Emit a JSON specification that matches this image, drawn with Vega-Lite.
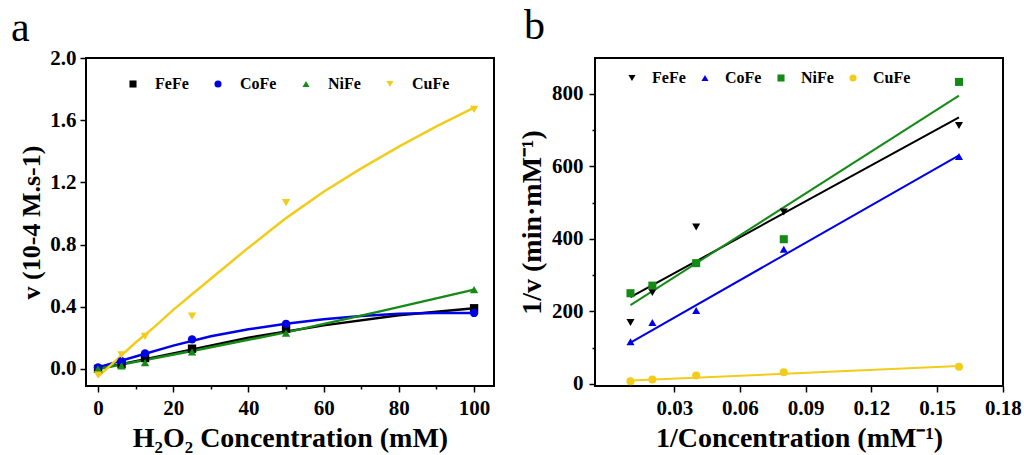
{
  "$schema": "https://vega.github.io/schema/vega-lite/v6.json",
  "padding": {"left": 10, "top": 4, "right": 0, "bottom": 0},
  "background": "white",
  "spacing": 22,
  "datasets": {
    "a_pts": [
      {"series": "FeFe", "conc": 0, "v": 0.0},
      {"series": "FeFe", "conc": 6.25, "v": 0.03},
      {"series": "FeFe", "conc": 12.5, "v": 0.07},
      {"series": "FeFe", "conc": 25, "v": 0.13},
      {"series": "FeFe", "conc": 50, "v": 0.26},
      {"series": "FeFe", "conc": 100, "v": 0.39},
      {"series": "CoFe", "conc": 0, "v": 0.01},
      {"series": "CoFe", "conc": 6.25, "v": 0.05},
      {"series": "CoFe", "conc": 12.5, "v": 0.1},
      {"series": "CoFe", "conc": 25, "v": 0.19},
      {"series": "CoFe", "conc": 50, "v": 0.29},
      {"series": "CoFe", "conc": 100, "v": 0.36},
      {"series": "NiFe", "conc": 0, "v": 0.0},
      {"series": "NiFe", "conc": 6.25, "v": 0.02},
      {"series": "NiFe", "conc": 12.5, "v": 0.04},
      {"series": "NiFe", "conc": 25, "v": 0.11},
      {"series": "NiFe", "conc": 50, "v": 0.23},
      {"series": "NiFe", "conc": 100, "v": 0.51},
      {"series": "CuFe", "conc": 0, "v": -0.04},
      {"series": "CuFe", "conc": 6.25, "v": 0.09},
      {"series": "CuFe", "conc": 12.5, "v": 0.21},
      {"series": "CuFe", "conc": 25, "v": 0.34},
      {"series": "CuFe", "conc": 50, "v": 1.07},
      {"series": "CuFe", "conc": 100, "v": 1.67}
    ],
    "a_fit": [
      {"series": "FeFe", "conc": 0, "v": 0.0},
      {"series": "FeFe", "conc": 20, "v": 0.1},
      {"series": "FeFe", "conc": 40, "v": 0.2},
      {"series": "FeFe", "conc": 60, "v": 0.28},
      {"series": "FeFe", "conc": 80, "v": 0.345},
      {"series": "FeFe", "conc": 100, "v": 0.39},
      {"series": "CoFe", "conc": 0, "v": 0.01},
      {"series": "CoFe", "conc": 10, "v": 0.08},
      {"series": "CoFe", "conc": 20, "v": 0.15},
      {"series": "CoFe", "conc": 30, "v": 0.21},
      {"series": "CoFe", "conc": 40, "v": 0.255},
      {"series": "CoFe", "conc": 50, "v": 0.29},
      {"series": "CoFe", "conc": 60, "v": 0.32},
      {"series": "CoFe", "conc": 70, "v": 0.34},
      {"series": "CoFe", "conc": 80, "v": 0.355},
      {"series": "CoFe", "conc": 90, "v": 0.36},
      {"series": "CoFe", "conc": 100, "v": 0.36},
      {"series": "NiFe", "conc": 0, "v": 0.0},
      {"series": "NiFe", "conc": 25, "v": 0.115},
      {"series": "NiFe", "conc": 50, "v": 0.235},
      {"series": "NiFe", "conc": 75, "v": 0.37},
      {"series": "NiFe", "conc": 100, "v": 0.51},
      {"series": "CuFe", "conc": 0, "v": -0.05},
      {"series": "CuFe", "conc": 5, "v": 0.06},
      {"series": "CuFe", "conc": 10, "v": 0.17},
      {"series": "CuFe", "conc": 15, "v": 0.27},
      {"series": "CuFe", "conc": 20, "v": 0.38},
      {"series": "CuFe", "conc": 25, "v": 0.48},
      {"series": "CuFe", "conc": 30, "v": 0.58},
      {"series": "CuFe", "conc": 40, "v": 0.78},
      {"series": "CuFe", "conc": 50, "v": 0.97},
      {"series": "CuFe", "conc": 60, "v": 1.14},
      {"series": "CuFe", "conc": 70, "v": 1.29},
      {"series": "CuFe", "conc": 80, "v": 1.43},
      {"series": "CuFe", "conc": 90, "v": 1.56},
      {"series": "CuFe", "conc": 100, "v": 1.68}
    ],
    "b_pts": [
      {"series": "FeFe", "inv": 0.01, "invv": 169},
      {"series": "FeFe", "inv": 0.02, "invv": 252},
      {"series": "FeFe", "inv": 0.04, "invv": 433},
      {"series": "FeFe", "inv": 0.08, "invv": 474},
      {"series": "FeFe", "inv": 0.16, "invv": 713},
      {"series": "CoFe", "inv": 0.01, "invv": 116},
      {"series": "CoFe", "inv": 0.02, "invv": 169},
      {"series": "CoFe", "inv": 0.04, "invv": 202},
      {"series": "CoFe", "inv": 0.08, "invv": 371},
      {"series": "CoFe", "inv": 0.16, "invv": 627},
      {"series": "NiFe", "inv": 0.01, "invv": 250},
      {"series": "NiFe", "inv": 0.02, "invv": 271},
      {"series": "NiFe", "inv": 0.04, "invv": 333},
      {"series": "NiFe", "inv": 0.08, "invv": 399},
      {"series": "NiFe", "inv": 0.16, "invv": 833},
      {"series": "CuFe", "inv": 0.01, "invv": 7},
      {"series": "CuFe", "inv": 0.02, "invv": 12},
      {"series": "CuFe", "inv": 0.04, "invv": 23},
      {"series": "CuFe", "inv": 0.08, "invv": 32},
      {"series": "CuFe", "inv": 0.16, "invv": 47}
    ],
    "b_fit": [
      {"series": "FeFe", "inv": 0.01, "invv": 239},
      {"series": "FeFe", "inv": 0.16, "invv": 735},
      {"series": "CoFe", "inv": 0.01, "invv": 114},
      {"series": "CoFe", "inv": 0.16, "invv": 630},
      {"series": "NiFe", "inv": 0.01, "invv": 217},
      {"series": "NiFe", "inv": 0.16, "invv": 795},
      {"series": "CuFe", "inv": 0.01, "invv": 9},
      {"series": "CuFe", "inv": 0.16, "invv": 49}
    ]
  },
  "hconcat": [
    {
      "width": 408,
      "height": 328,
      "title": {"text": "a", "dx": -75, "offset": -3},
      "resolve": {"legend": {"color": "independent", "shape": "independent"}},
      "layer": [
        {
          "data": {"name": "a_fit"},
          "mark": {"type": "line", "strokeWidth": 2.5},
          "encoding": {
            "x": {"field": "conc", "type": "quantitative"},
            "y": {"field": "v", "type": "quantitative"},
            "color": {"field": "series", "type": "nominal", "legend": null,
              "scale": {"domain": ["FeFe", "CoFe", "NiFe", "CuFe"], "range": ["#000000", "#0000e6", "#168a16", "#f2cc1a"]}}
          }
        },
        {
          "data": {"name": "a_pts"},
          "mark": {"type": "point", "filled": true, "size": 70, "opacity": 1},
          "encoding": {
            "x": {"field": "conc", "type": "quantitative",
              "scale": {"domain": [-3.2, 105.3], "nice": false, "zero": false},
              "axis": {"title": "H₂O₂ Concentration (mM)", "values": [0, 10, 20, 30, 40, 50, 60, 70, 80, 90, 100],
                "labelExpr": "datum.value % 20 === 0 ? datum.label : ''",
                "tickSize": {"condition": {"test": "datum.value % 20 === 0", "value": 6}, "value": 3},
                "labelPadding": 5, "titlePadding": 6}},
            "y": {"field": "v", "type": "quantitative",
              "scale": {"domain": [-0.11, 2.0], "nice": false, "zero": false},
              "axis": {"title": "v (10-4 M.s-1)", "titleFontSize": 26, "format": ".1f",
                "values": [0, 0.2, 0.4, 0.6, 0.8, 1.0, 1.2, 1.4, 1.6, 1.8, 2.0],
                "labelExpr": "round(datum.value*10) % 4 === 0 ? datum.label : ''",
                "tickSize": {"condition": {"test": "round(datum.value*10) % 4 === 0", "value": 6}, "value": 3},
                "labelPadding": 4, "titlePadding": 5}},
            "color": {"field": "series", "type": "nominal",
              "legend": {"orient": "none", "legendX": 39, "legendY": 18, "direction": "horizontal", "title": null, "columnPadding": 21, "labelOffset": 14, "symbolSize": 50, "padding": 0}},
            "shape": {"field": "series", "type": "nominal",
              "scale": {"domain": ["FeFe", "CoFe", "NiFe", "CuFe"], "range": ["square", "circle", "triangle-up", "triangle-down"]},
              "legend": {"orient": "none", "legendX": 39, "legendY": 18, "direction": "horizontal", "title": null, "columnPadding": 21, "labelOffset": 14, "symbolSize": 50, "padding": 0}}
          }
        }
      ]
    },
    {
      "width": 408,
      "height": 328,
      "title": {"text": "b", "dx": -71, "offset": 10},
      "resolve": {"legend": {"color": "independent", "shape": "independent"}},
      "layer": [
        {
          "data": {"name": "b_fit"},
          "mark": {"type": "line", "strokeWidth": 2},
          "encoding": {
            "x": {"field": "inv", "type": "quantitative"},
            "y": {"field": "invv", "type": "quantitative"},
            "color": {"field": "series", "type": "nominal", "legend": null,
              "scale": {"domain": ["FeFe", "CoFe", "NiFe", "CuFe"], "range": ["#000000", "#0000e6", "#168a16", "#f2cc1a"]}}
          }
        },
        {
          "data": {"name": "b_pts"},
          "mark": {"type": "point", "filled": true, "size": 65, "opacity": 1},
          "encoding": {
            "x": {"field": "inv", "type": "quantitative",
              "scale": {"domain": [-0.0062, 0.1801], "nice": false, "zero": false},
              "axis": {"title": "1/Concentration (mM⁻¹)", "format": ".2f", "labelOverlap": false, "labelFlush": false,
                "values": [0.03, 0.06, 0.09, 0.12, 0.15, 0.18],
                "tickSize": 6,
                "labelPadding": 5, "titlePadding": 6}},
            "y": {"field": "invv", "type": "quantitative",
              "scale": {"domain": [-6, 899], "nice": false, "zero": false},
              "axis": {"title": "1/v (min·mM⁻¹)", "titleFontSize": 28, "values": [0, 100, 200, 300, 400, 500, 600, 700, 800],
                "labelExpr": "datum.value % 200 === 0 ? datum.label : ''",
                "tickSize": {"condition": {"test": "datum.value % 200 === 0", "value": 6}, "value": 3},
                "labelPadding": 6, "titlePadding": 5}},
            "color": {"field": "series", "type": "nominal",
              "legend": {"orient": "none", "legendX": 29, "legendY": 12, "direction": "horizontal", "title": null, "columnPadding": 11, "labelOffset": 12, "symbolSize": 50, "padding": 0}},
            "shape": {"field": "series", "type": "nominal",
              "scale": {"domain": ["FeFe", "CoFe", "NiFe", "CuFe"], "range": ["triangle-down", "triangle-up", "square", "circle"]},
              "legend": {"orient": "none", "legendX": 29, "legendY": 12, "direction": "horizontal", "title": null, "columnPadding": 11, "labelOffset": 12, "symbolSize": 50, "padding": 0}}
          }
        }
      ]
    }
  ],
  "resolve": {
    "scale": {"color": "independent", "shape": "independent"},
    "legend": {"color": "independent", "shape": "independent"}
  },
  "config": {
    "font": "Liberation Serif",
    "view": {"stroke": "black", "strokeWidth": 2},
    "axis": {
      "labelFont": "Liberation Serif", "labelFontWeight": "bold", "labelFontSize": 21, "labelColor": "black",
      "titleFont": "Liberation Serif", "titleFontWeight": "bold", "titleFontSize": 28, "titleColor": "black",
      "domain": false, "grid": false, "tickColor": "black", "tickWidth": 1.5
    },
    "legend": {
      "labelFont": "Liberation Serif", "labelFontWeight": "bold", "labelFontSize": 16, "labelColor": "black",
      "symbolStrokeWidth": 0
    },
    "title": {"font": "Liberation Serif", "fontSize": 42, "fontWeight": "normal", "anchor": "start", "frame": "group", "color": "black"}
  }
}
